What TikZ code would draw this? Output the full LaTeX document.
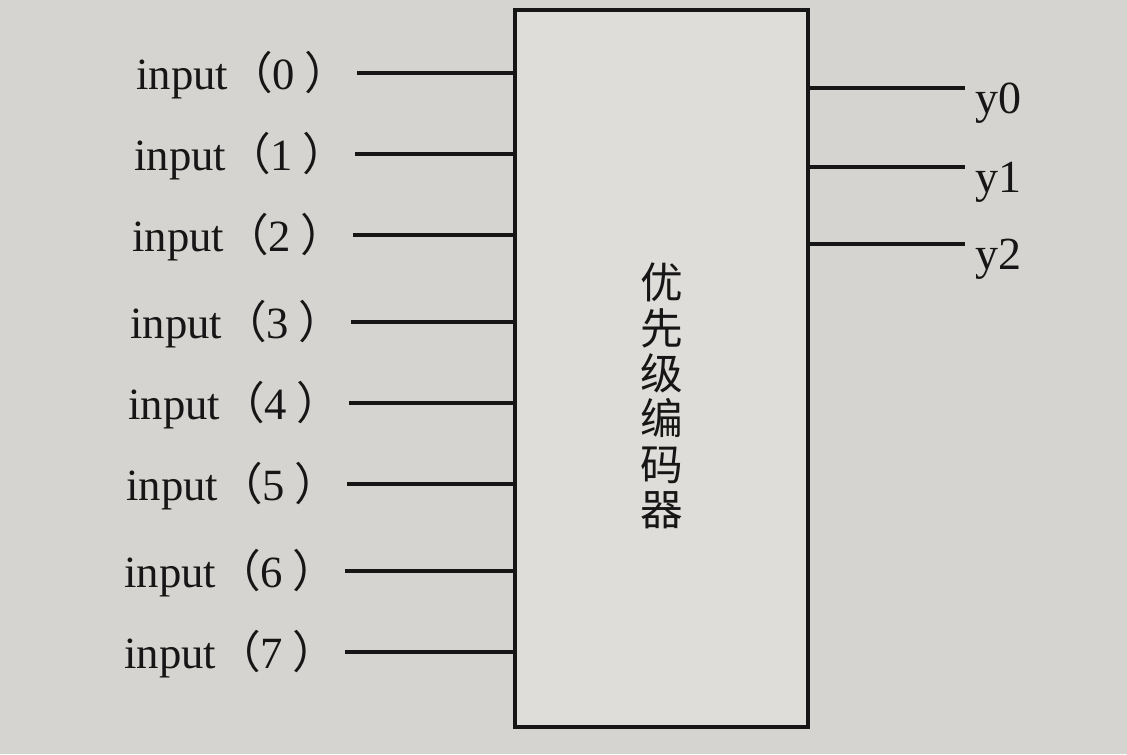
\documentclass[tikz,border=0pt]{standalone}
\usepackage{fontspec}
\setmainfont{Liberation Serif}
\newfontfamily\cjk{Noto Sans CJK SC}
\definecolor{paper}{RGB}{214,212,208}
\definecolor{ink}{RGB}{22,22,22}
\newcommand{\inlab}[1]{input{\cjk（}#1\hspace{0.2em}{\cjk）}}
\begin{document}
\begin{tikzpicture}[x=0.75pt,y=-0.75pt,
  wire/.style={draw=ink,line width=2.4pt},
  inlabel/.style={anchor=base east,inner sep=0pt,text=ink,font=\fontsize{33.5}{40}\selectfont},
  outlabel/.style={anchor=base west,inner sep=0pt,text=ink,font=\fontsize{34.5}{40}\selectfont}]
\fill[paper] (0,0) rectangle (1127,754);
\useasboundingbox (0,0) rectangle (1127,754);
\node[draw=ink,line width=2.4pt,fill=paper!80!white,minimum width=219.75pt,minimum height=537.75pt,inner sep=0pt] (box) at (661.5,368.5) {};
\node[text=ink,align=center,font=\cjk\fontsize{32}{34}\selectfont] (title) at (662,396) {优\\先\\级\\编\\码\\器};
\foreach \i/\y/\x in {0/73/357,1/154/355,2/235/353,3/322/351,4/403/349,5/484/347,6/571/345,7/652/345}{
  \coordinate (i\i) at (\x,\y);
  \draw[wire] (i\i) -- (i\i -| box.west);
  \node[inlabel] (l\i) at ([xshift=-6pt,yshift=-12pt]i\i) {\inlab{\i}};
}
\foreach \j/\y in {0/88,1/167,2/244}{
  \coordinate (o\j) at (965,\y);
  \draw[wire] (o\j -| box.east) -- (o\j);
  \node[outlabel] (y\j) at ([xshift=7.5pt,yshift=-19pt]o\j) {y\j};
}
\end{tikzpicture}
\end{document}
